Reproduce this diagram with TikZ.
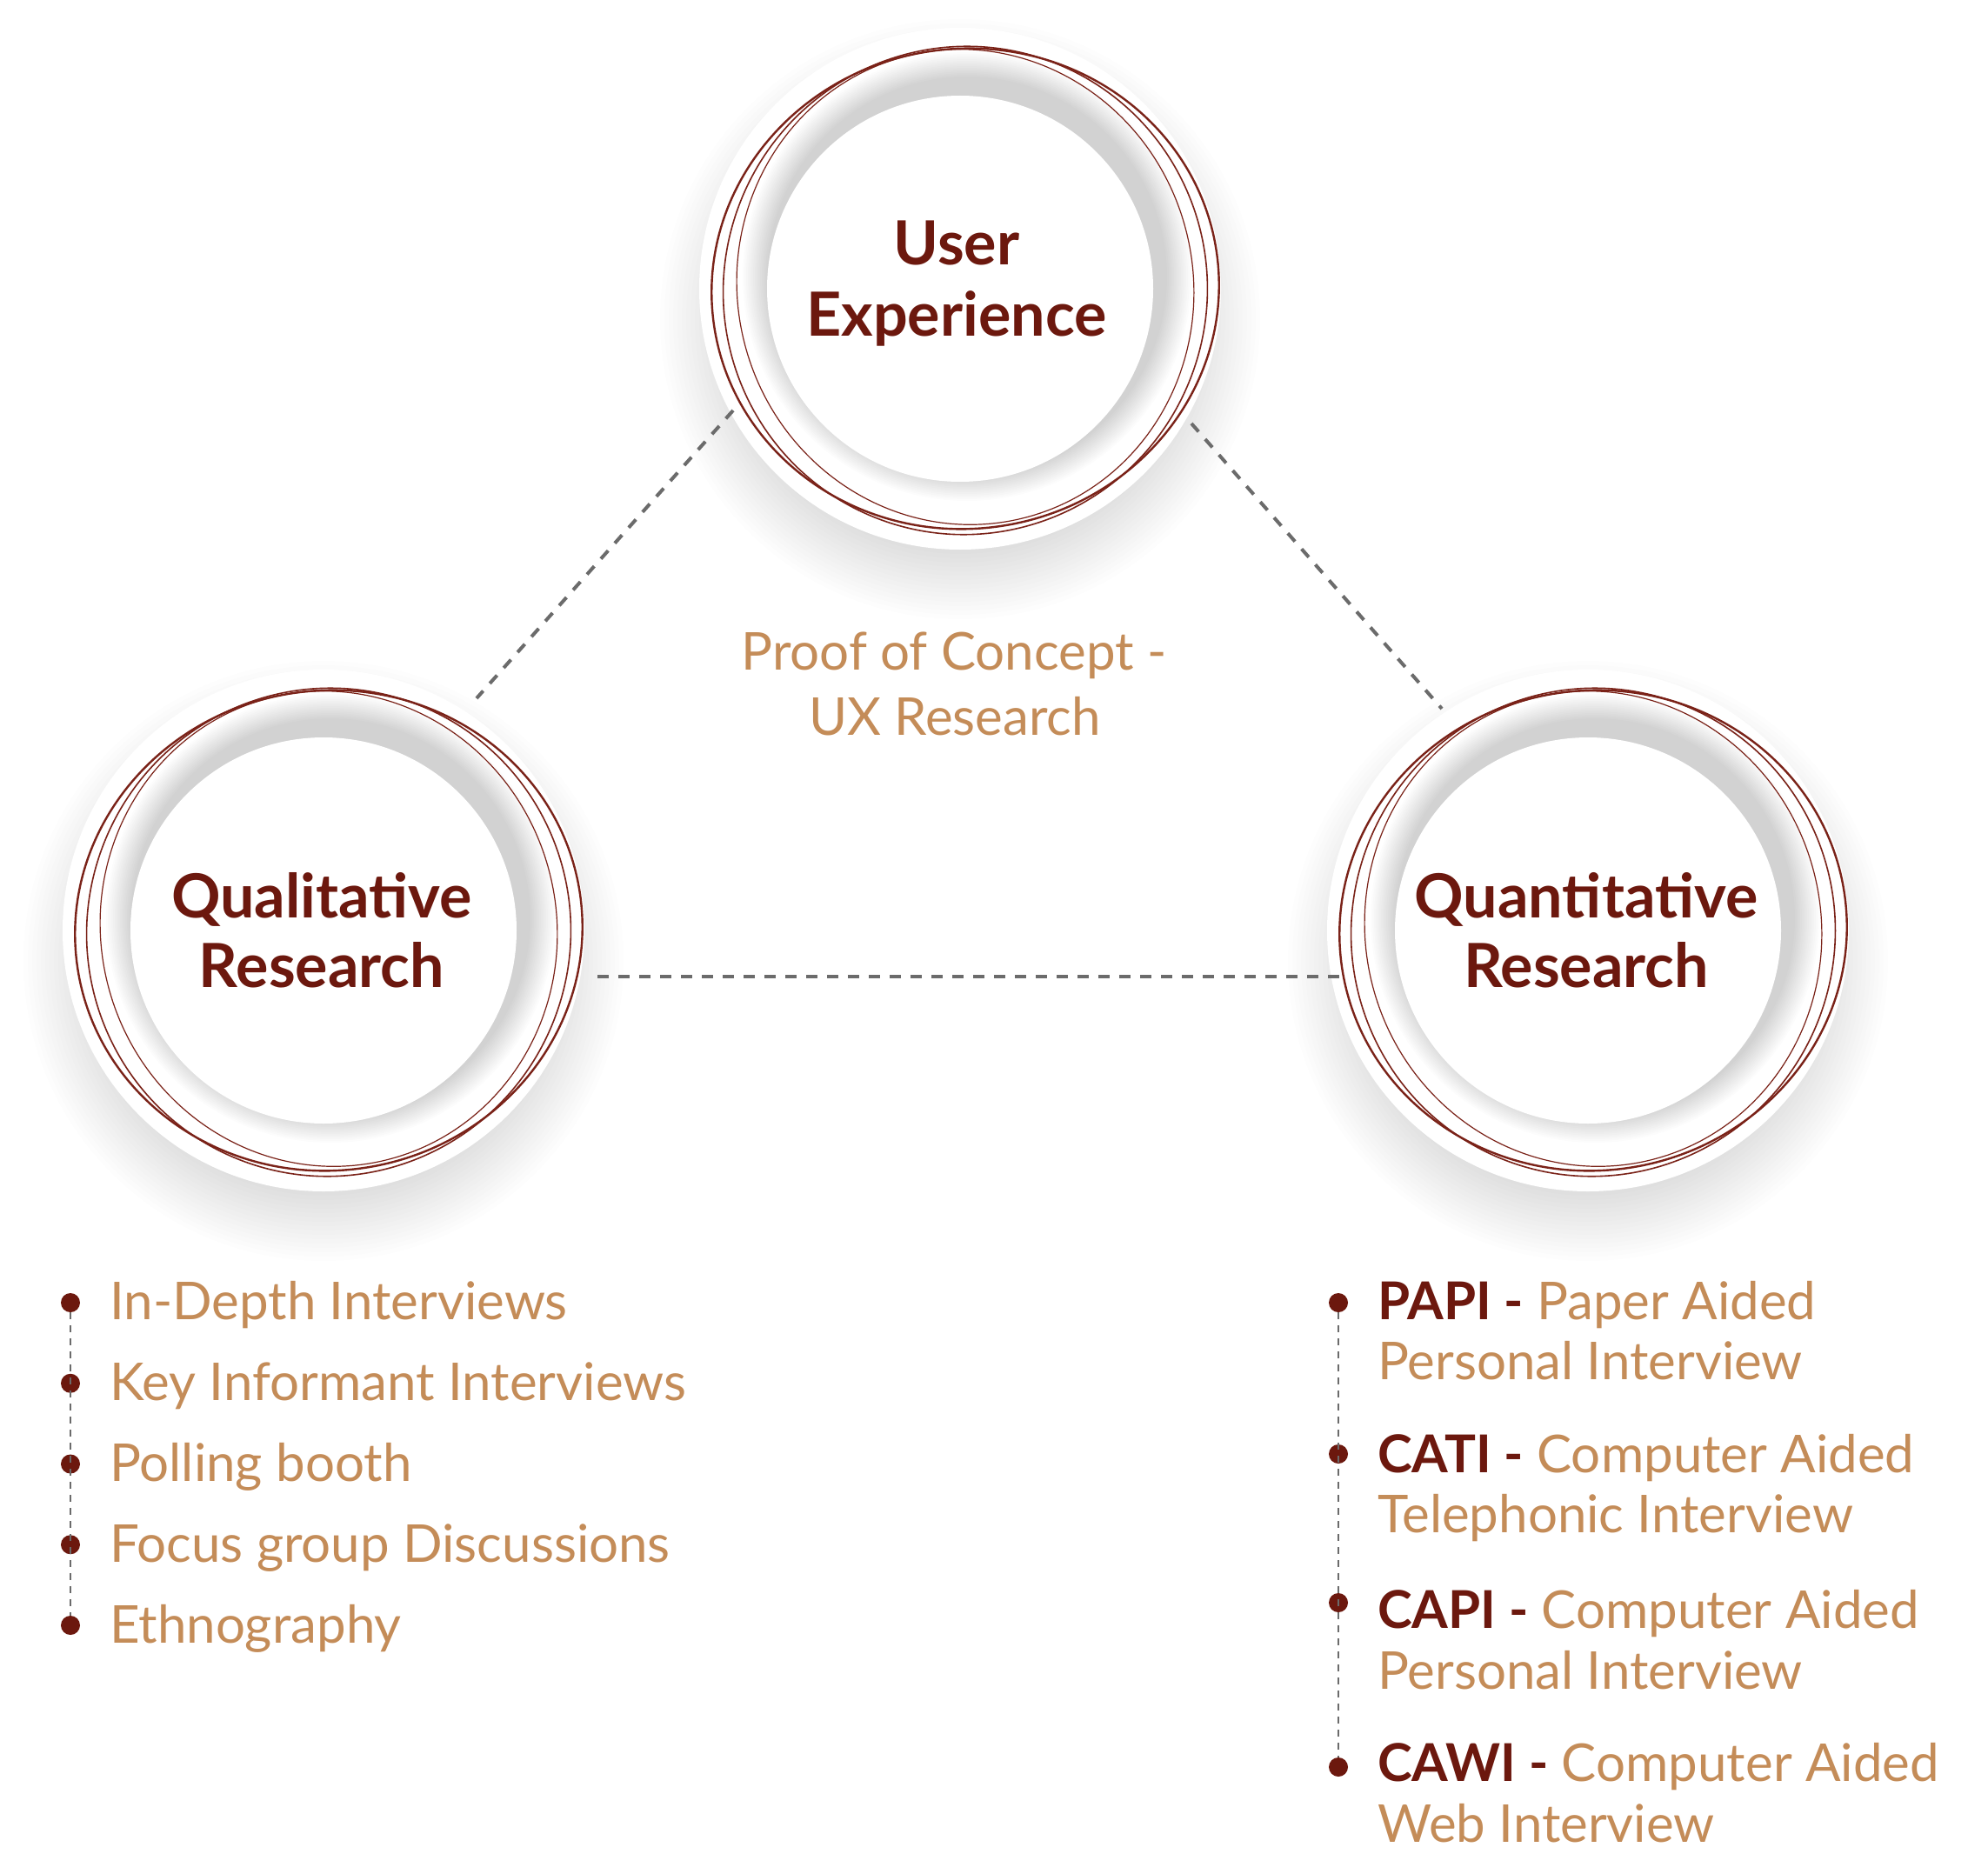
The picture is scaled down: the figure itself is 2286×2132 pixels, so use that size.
\documentclass[tikz,border=0pt]{standalone}
\usepackage{fontspec}
\setmainfont{Lato}
\definecolor{dred}{HTML}{6C180E}
\definecolor{ptan}{HTML}{C48C58}
\definecolor{ringc}{HTML}{7A2218}
\definecolor{dgray}{HTML}{6B6B6B}
\tikzset{
  head/.style={font=\bfseries\fontsize{70}{82}\selectfont, text=dred, inner sep=0pt, anchor=base},
  listtxt/.style={font=\fontsize{60}{70}\selectfont, text=ptan, inner sep=0pt, anchor=base west},
  poc/.style={font=\fontsize{60}{72}\selectfont, text=ptan, inner sep=0pt, anchor=base},
  bul/.style={circle, fill=dred, minimum size=22pt, inner sep=0pt},
  conn/.style={dgray, line width=4pt, dash pattern=on 12.5pt off 11.5pt},
  listline/.style={dgray, line width=2pt, dash pattern=on 8pt off 7pt},
}
\newcommand\drawplate{%
  \foreach \i in {0,...,19} \fill[black, opacity=0.006] (0,35) circle[radius={(345-5*\i)*1pt}];
  \fill[white] (0,0) circle[radius=300pt];
  \foreach \i in {0,...,14} \fill[black, opacity=0.011] (8,-14) circle[radius={(258-2*\i)*1pt}];
  \fill[white] (0,0) circle[radius=222pt];
  \draw[ringc, line width=2.4pt, rotate around={8:(6,0)}] (6,0) ellipse [x radius=292pt, y radius=276pt];
  \draw[ringc, line width=1.6pt, rotate around={-20:(6,2)}] (6,2) ellipse [x radius=278pt, y radius=281pt];
  \draw[ringc, line width=1.2pt, rotate around={15:(6,-2)}] (6,-2) ellipse [x radius=262pt, y radius=274pt];
}
\begin{document}
\begin{tikzpicture}[x=1pt,y=-1pt]
\useasboundingbox (0,0) rectangle (2286,2132);
\fill[white] (0,0) rectangle (2286,2132);

% plates
\begin{scope}[shift={(1104,332)}] \drawplate \end{scope}
\begin{scope}[shift={(372,1070)}] \drawplate \end{scope}
\begin{scope}[shift={(1826,1070)}] \drawplate \end{scope}

% connectors
\coordinate (l1) at (843,472); \coordinate (l2) at (548,803);
\coordinate (r1) at (1370,487); \coordinate (r2) at (1658,815);
\coordinate (h1) at (687,1123); \coordinate (h2) at (1540,1123);
\draw[conn] (l1) -- (l2);
\draw[conn] (r1) -- (r2);
\draw[conn] (h1) -- (h2);

% headings
\node[head] (ux1) at (1100,305) {User};
\node[head] (ux2) at (1100,386) {Experience};
\node[head] (ql1) at (370,1055) {Qualitative};
\node[head] (ql2) at (370,1135) {Research};
\node[head] (qn1) at (1824,1055) {Quantitative};
\node[head] (qn2) at (1824,1135) {Research};

% center text
\node[poc] (poc1) at (1097,770) {Proof of Concept -};
\node[poc] (poc2) at (1098,845) {UX Research};

% left list
\foreach \k in {1,...,5} \node[bul] (lb\k) at (81,{1498+92.75*(\k-1)}) {};
\draw[listline] (lb1) -- (lb5);
\node[listtxt] (lt1) at (126,1517) {In-Depth Interviews};
\node[listtxt] (lt2) at (126,1610) {Key Informant Interviews};
\node[listtxt] (lt3) at (126,1703) {Polling booth};
\node[listtxt] (lt4) at (126,1796) {Focus group Discussions};
\node[listtxt] (lt5) at (126,1889) {Ethnography};

% right list
\node[bul] (rb1) at (1539,1498) {};
\node[bul] (rb2) at (1539,1672) {};
\node[bul] (rb3) at (1539,1843) {};
\node[bul] (rb4) at (1539,2032) {};
\draw[listline] (rb1) -- (rb4);
\node[listtxt] (rt1a) at (1584,1517) {\textcolor{dred}{\bfseries PAPI -} Paper Aided};
\node[listtxt] (rt1b) at (1584,1586) {Personal Interview};
\node[listtxt] (rt2a) at (1584,1693) {\textcolor{dred}{\bfseries CATI -} Computer Aided};
\node[listtxt] (rt2b) at (1584,1762) {Telephonic Interview};
\node[listtxt] (rt3a) at (1584,1872) {\textcolor{dred}{\bfseries CAPI -} Computer Aided};
\node[listtxt] (rt3b) at (1584,1942) {Personal Interview};
\node[listtxt] (rt4a) at (1584,2048) {\textcolor{dred}{\bfseries CAWI -} Computer Aided};
\node[listtxt] (rt4b) at (1584,2118) {Web Interview};
\end{tikzpicture}
\end{document}
